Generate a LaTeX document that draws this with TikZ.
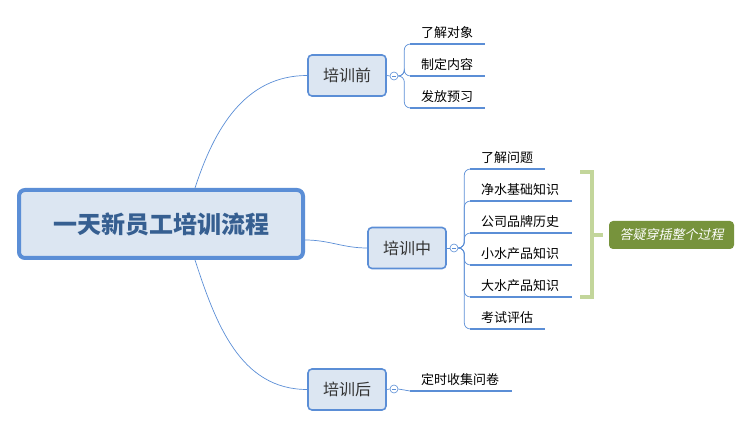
\documentclass[tikz,border=0pt]{standalone}
\usepackage{fontspec}
\setmainfont{Noto Sans CJK SC}
\newfontfamily\cjkslant[FakeSlant=0.2]{Noto Sans CJK SC}
\usetikzlibrary{positioning}
\definecolor{mmblue}{HTML}{5B8ED6}
\definecolor{mmfill}{HTML}{DCE6F2}
\definecolor{mmtitle}{HTML}{365F91}
\definecolor{brgreen}{HTML}{C3D69B}
\definecolor{qaolive}{HTML}{77933C}
\begin{document}
\begin{tikzpicture}[x=1pt, y=-1pt,
    every node/.style={font=\fontsize{13}{15}\selectfont},
    root/.style={rectangle, draw=mmblue, fill=mmfill, line width=4pt, rounded corners=6pt, minimum width=284pt, minimum height=68pt, text=mmtitle, font=\fontsize{24}{28}\selectfont\bfseries},
    stage/.style={rectangle, draw=mmblue, fill=mmfill, line width=1.6pt, rounded corners=4pt, minimum width=78pt, minimum height=41pt, text=black!80, font=\fontsize{16}{19}\selectfont},
    toggle/.style={circle, draw=mmblue, fill=white, line width=0.6pt, minimum size=8pt, inner sep=0pt,
      path picture={\draw[mmblue, line width=0.6pt] ([xshift=-2pt]path picture bounding box.center) -- ([xshift=2pt]path picture bounding box.center);}},
    item/.style={anchor=south west, inner xsep=11pt, inner ysep=5pt, align=left, text width=#1},
    item/.default=53pt,
    uline/.style={draw=mmblue, line width=2.6pt},
    link/.style={draw=mmblue, line width=0.7pt},
    branch/.style={link, rounded corners=6pt},
    bracket/.style={draw=brgreen, line width=3.5pt},
    qa/.style={rectangle, fill=qaolive, rounded corners=4pt, minimum width=125pt, minimum height=28pt, text=white, font=\fontsize{13}{15}\selectfont\cjkslant}
  ]
  \useasboundingbox (0,0) rectangle (750,427);

  % main topic and stages
  \node[root] (root) at (161,224) {一天新员工培训流程};
  \node[stage] (pre) at (347,75.5) {培训前};
  \node[stage] (mid) at (407,248) {培训中};
  \node[stage] (post) at (347,389.5) {培训后};

  \node[toggle] (preT) at (394,76) {};
  \node[toggle] (midT) at (454,248) {};
  \node[toggle] (postT) at (394,389) {};

  \draw[link] ([xshift=34pt]root.north) to[out=72, in=180] (pre.west);
  \draw[link] ([yshift=-16pt]root.east) to[out=0, in=180] (mid.west);
  \draw[link] ([xshift=34pt]root.south) to[out=-72, in=180] (post.west);
  \draw[link] (pre.east) -- (preT.west);
  \draw[link] (mid.east) -- (midT.west);
  \draw[link] (post.east) -- (postT.west);

  % before
  \node[item] (p1) at (410,44) {了解对象};
  \node[item] (p2) at (410,76) {制定内容};
  \node[item] (p3) at (410,108) {发放预习};
  \foreach \n in {p1,p2,p3} {
    \draw[branch] (preT.east) -- ++(6pt,0) |- (\n.south west);
    \draw[uline] (\n.south west) -- (\n.south east);
  }

  % during
  \node[item] (m1) at (470,169) {了解问题};
  \node[item=80pt] (m2) at (470,201) {净水基础知识};
  \node[item=80pt] (m3) at (470,233) {公司品牌历史};
  \node[item=80pt] (m4) at (470,265) {小水产品知识};
  \node[item=80pt] (m5) at (470,297) {大水产品知识};
  \node[item] (m6) at (470,329) {考试评估};
  \foreach \n in {m1,m2,m3,m4,m5,m6} {
    \draw[branch] (midT.east) -- ++(6pt,0) |- (\n.south west);
    \draw[uline] (\n.south west) -- (\n.south east);
  }

  % after
  \node[item=80pt] (a1) at (410,391) {定时收集问卷};
  \draw[link] (postT.east) -- (a1.south west);
  \draw[uline] (a1.south west) -- (a1.south east);

  % summary
  \node[qa] (qa) at (671.5,235) {答疑穿插整个过程};
  \draw[bracket] (580,172) -- (592,172) -- (592,297) -- (580,297);
  \draw[bracket] (592,235) -- ([xshift=-6pt]qa.west);
\end{tikzpicture}
\end{document}
